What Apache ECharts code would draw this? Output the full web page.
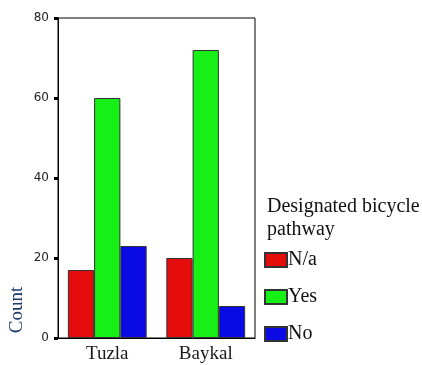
<!DOCTYPE html>
<html>
<head>
<meta charset="utf-8">
<script src="https://cdn.jsdelivr.net/npm/echarts@6/dist/echarts.min.js"></script>
<style>
html, body { margin: 0; padding: 0; background: #fff; }
#chart { width: 422px; height: 365px; }
</style>
</head>
<body>
<div id="chart"></div>
<script>
let categories = ['Tuzla', 'Baykal'];
let seriesNames = ['N/a', 'Yes', 'No'];
let naValues = [17, 20];
let yesValues = [60, 72];
let noValues = [23, 8];
let yTicks = [0, 20, 40, 60, 80];

let colors = ['#e50c0c', '#16f016', '#0a0ae4'];
let serif = '"Liberation Serif", "DejaVu Serif", serif';

let chart = echarts.init(document.getElementById('chart'));

function makeSeries(name, values, color) {
    return {
        name: name,
        type: 'bar',
        data: values,
        barGap: '0%',
        barCategoryGap: '20%',
        itemStyle: {
            color: color,
            borderColor: '#333',
            borderWidth: 1
        }
    };
}

chart.setOption({
    animation: false,
    grid: {
        left: 58,
        right: 167,
        top: 18,
        bottom: 27,
        show: true,
        borderColor: '#000',
        borderWidth: 1
    },
    title: {
        text: 'Designated bicycle\npathway',
        left: 262,
        top: 190,
        textStyle: {
            fontFamily: serif,
            fontSize: 20,
            fontWeight: 'normal',
            color: '#111',
            lineHeight: 23
        }
    },
    legend: {
        data: seriesNames,
        orient: 'vertical',
        left: 259,
        top: 245,
        itemWidth: 22,
        itemHeight: 14,
        itemGap: 17,
        icon: 'rect',
        textStyle: {
            fontFamily: serif,
            fontSize: 20,
            color: '#111',
            lineHeight: 20,
            padding: [0, 0, 0, -4]
        }
    },
    graphic: [{
        type: 'text',
        x: 17,
        y: 310,
        rotation: Math.PI / 2,
        style: {
            text: 'Count',
            font: '19px ' + serif,
            fill: '#1f3a6e',
            textAlign: 'center',
            textVerticalAlign: 'middle'
        }
    }],
    xAxis: {
        type: 'category',
        data: categories,
        axisLine: { lineStyle: { color: '#000', width: 1 } },
        axisTick: {
            alignWithLabel: true,
            length: 4,
            lineStyle: { color: '#000', width: 3 }
        },
        axisLabel: {
            fontFamily: serif,
            fontSize: 19,
            color: '#1a1a1a',
            margin: 7
        },
        splitLine: { show: false }
    },
    yAxis: {
        type: 'value',
        min: yTicks[0],
        max: yTicks[yTicks.length - 1],
        interval: yTicks[1] - yTicks[0],
        axisLine: { show: true, lineStyle: { color: '#000', width: 1 } },
        axisTick: {
            show: true,
            length: 4,
            lineStyle: { color: '#000', width: 3 }
        },
        axisLabel: {
            fontFamily: '"DejaVu Sans", sans-serif',
            fontSize: 12,
            color: '#222',
            margin: 9
        },
        splitLine: { show: false }
    },
    series: [
        makeSeries(seriesNames[0], naValues, colors[0]),
        makeSeries(seriesNames[1], yesValues, colors[1]),
        makeSeries(seriesNames[2], noValues, colors[2])
    ]
});
</script>
</body>
</html>
